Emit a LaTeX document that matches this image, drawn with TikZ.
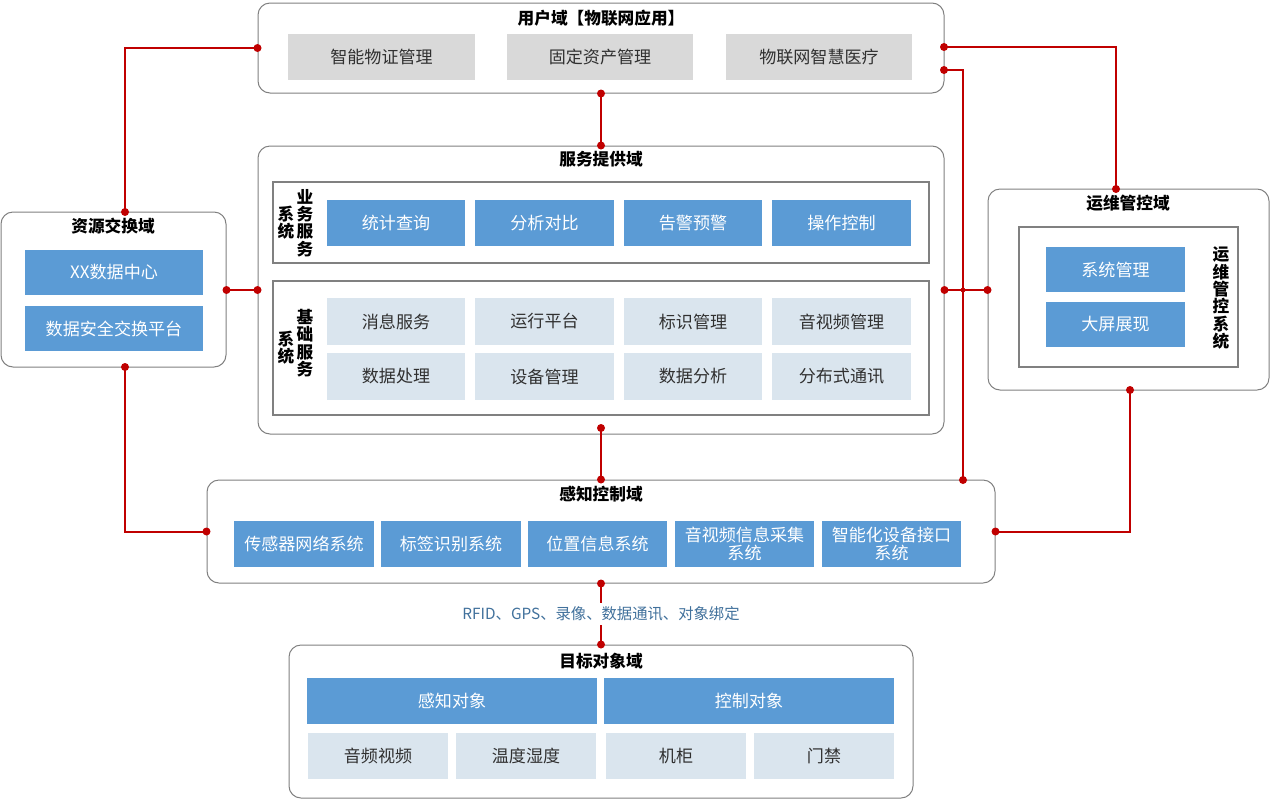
\documentclass[tikz,border=0pt]{standalone}
\usepackage{fontspec}
\setmainfont{Noto Sans CJK SC}
\usetikzlibrary{fit,calc}
\definecolor{redl}{HTML}{C00000}
\definecolor{blueb}{HTML}{5B9BD5}
\definecolor{lightb}{HTML}{DAE5EE}
\definecolor{grayb}{HTML}{D9D9D9}
\definecolor{darkt}{HTML}{303030}
\definecolor{bordr}{HTML}{808080}
\definecolor{labc}{HTML}{41719C}
\tikzset{
  dombox/.style={draw=bordr, rounded corners=9pt, line width=0.75pt, inner sep=0pt},
  framebox/.style={draw=bordr, line width=0.9pt, inner sep=0pt},
  bbox/.style={fill=blueb, inner sep=0pt},
  lbox/.style={fill=lightb, inner sep=0pt},
  gbox/.style={fill=grayb, inner sep=0pt},
  bt/.style={inner sep=0pt, text=white, align=center, font=\fontsize{12.8}{15}\selectfont},
  dt/.style={inner sep=0pt, text=darkt, align=center, font=\fontsize{12.8}{15}\selectfont},
  dtitle/.style={inner sep=0pt, font=\bfseries\fontsize{12.5}{14}\selectfont},
  vlabb/.style={inner sep=0pt, align=center, font=\bfseries\fontsize{12.5}{13}\selectfont},
  conn/.style={draw=redl, line width=1.5pt},
}
\begin{document}
\begin{tikzpicture}[x=0.75pt,y=-0.75pt]
\useasboundingbox (0,0) rectangle (1270,800);

% ---------- user domain ----------
\node[dombox, fit={(258,3)(944,93)}] (user) {};
\node[dtitle] (userT) at (601,18) {用户域【物联网应用】};
\node[gbox, fit={(288,34)(475,80)}, label={[dt]center:智能物证管理}] (u1) {};
\node[gbox, fit={(507,34)(693,80)}, label={[dt]center:固定资产管理}] (u2) {};
\node[gbox, fit={(726,34)(912,80)}, label={[dt]center:物联网智慧医疗}] (u3) {};

% ---------- service domain ----------
\node[dombox, fit={(258,146)(944,434)}] (svc) {};
\node[dtitle] (svcT) at (601,159) {服务提供域};
\node[framebox, fit={(273,182)(929,263)}] (biz) {};
\node[framebox, fit={(273,281)(929,415)}] (base) {};
\node[vlabb] (bizL1) at (286,223) {系\\统};
\node[vlabb] (bizL2) at (305,223) {业\\务\\服\\务};
\node[vlabb] (baseL1) at (286,348) {系\\统};
\node[vlabb] (baseL2) at (305,343) {基\\础\\服\\务};
\node[bbox, fit={(327,200)(465,246)}, label={[bt]center:统计查询}] (b1) {};
\node[bbox, fit={(475,200)(614,246)}, label={[bt]center:分析对比}] (b2) {};
\node[bbox, fit={(624,200)(762,246)}, label={[bt]center:告警预警}] (b3) {};
\node[bbox, fit={(772,200)(911,246)}, label={[bt]center:操作控制}] (b4) {};
\node[lbox, fit={(327,298)(465,345)}, label={[dt]center:消息服务}] (c1) {};
\node[lbox, fit={(475,298)(614,345)}, label={[dt]center:运行平台}] (c2) {};
\node[lbox, fit={(624,298)(762,345)}, label={[dt]center:标识管理}] (c3) {};
\node[lbox, fit={(772,298)(911,345)}, label={[dt]center:音视频管理}] (c4) {};
\node[lbox, fit={(327,353)(465,400)}, label={[dt]center:数据处理}] (c5) {};
\node[lbox, fit={(475,353)(614,400)}, label={[dt]center:设备管理}] (c6) {};
\node[lbox, fit={(624,353)(762,400)}, label={[dt]center:数据分析}] (c7) {};
\node[lbox, fit={(772,353)(911,400)}, label={[dt]center:分布式通讯}] (c8) {};

% ---------- resource domain ----------
\node[dombox, fit={(1,212)(226,367)}] (res) {};
\node[dtitle] (resT) at (113,226) {资源交换域};
\node[bbox, fit={(25,250)(203,295)}, label={[bt]center:XX数据中心}] (r1) {};
\node[bbox, fit={(25,306)(203,351)}, label={[bt]center:数据安全交换平台}] (r2) {};

% ---------- ops domain ----------
\node[dombox, fit={(988,189)(1269,390)}] (ops) {};
\node[dtitle] (opsT) at (1128,203) {运维管控域};
\node[framebox, fit={(1019,227)(1238,367)}] (opsF) {};
\node[bbox, fit={(1046,247)(1185,292)}, label={[bt]center:系统管理}] (o1) {};
\node[bbox, fit={(1046,302)(1185,347)}, label={[bt]center:大屏展现}] (o2) {};
\node[vlabb] (opsL) at (1221,298) {运\\维\\管\\控\\系\\统};

% ---------- sensing domain ----------
\node[dombox, fit={(207,480)(995,583)}] (sense) {};
\node[dtitle] (senseT) at (601,494) {感知控制域};
\node[bbox, fit={(234,521)(374,567)}, label={[bt]center:传感器网络系统}] (s1) {};
\node[bbox, fit={(381,521)(521,567)}, label={[bt]center:标签识别系统}] (s2) {};
\node[bbox, fit={(528,521)(667,567)}, label={[bt]center:位置信息系统}] (s3) {};
\node[bbox, fit={(675,521)(814,567)}, label={[bt, font=\fontsize{12.8}{13}\selectfont]center:{音视频信息采集\\系统}}] (s4) {};
\node[bbox, fit={(822,521)(961,567)}, label={[bt, font=\fontsize{12.8}{13}\selectfont]center:{智能化设备接口\\系统}}] (s5) {};

% ---------- target domain ----------
\node[dombox, fit={(289,645)(913,798)}] (tgt) {};
\node[dtitle] (tgtT) at (601,661) {目标对象域};
\node[bbox, fit={(307,678)(597,724)}, label={[bt]center:感知对象}] (t1) {};
\node[bbox, fit={(604,678)(894,724)}, label={[bt]center:控制对象}] (t2) {};
\node[lbox, fit={(308,733)(448,779)}, label={[dt]center:音频视频}] (t3) {};
\node[lbox, fit={(456,733)(596,779)}, label={[dt]center:温度湿度}] (t4) {};
\node[lbox, fit={(606,733)(746,779)}, label={[dt]center:机柜}] (t5) {};
\node[lbox, fit={(754,733)(894,779)}, label={[dt]center:门禁}] (t6) {};

% ---------- connectors ----------
\coordinate (resTop) at (125,212);
\coordinate (resBot) at (125,367);
\coordinate (uR1) at (944,47);
\coordinate (uR2) at (944,70);
\coordinate (opsTop) at (1116,189);
\coordinate (senTop) at (963,480);
\coordinate (opsBot) at (1130,390);
\coordinate (svcBot) at (601,428);

\draw[conn] (user.west) -| (resTop);
\draw[conn] (user.south) -- (svc.north);
\draw[conn] (uR1) -| (opsTop);
\draw[conn] (uR2) -| (senTop);
\draw[conn] (svc.east) -- (svc.east -| ops.west);
\draw[conn] (svc.west) -- (svc.west -| res.east);
\draw[conn] (svcBot) -- (sense.north);
\draw[conn] (resBot) |- (sense.west);
\draw[conn] (sense.east) -| (opsBot);
\draw[conn] (sense.south) -- node[fill=white, inner xsep=2pt, inner ysep=3pt, text=labc, font=\fontsize{11.5}{13}\selectfont] (lbl) {RFID、GPS、录像、数据通讯、对象绑定} (tgt.north);

\foreach \p in {user.west, resTop, user.south, svc.north, uR1, opsTop, uR2, senTop,
  svc.east, {svc.east -| ops.west}, svc.west, {svc.west -| res.east}, svcBot, sense.north,
  resBot, sense.west, sense.east, opsBot, sense.south, tgt.north}
  \fill[redl] (\p) circle (3pt);
\fill[redl] (svc.east -| senTop) circle (1.8pt);
\end{tikzpicture}
\end{document}
